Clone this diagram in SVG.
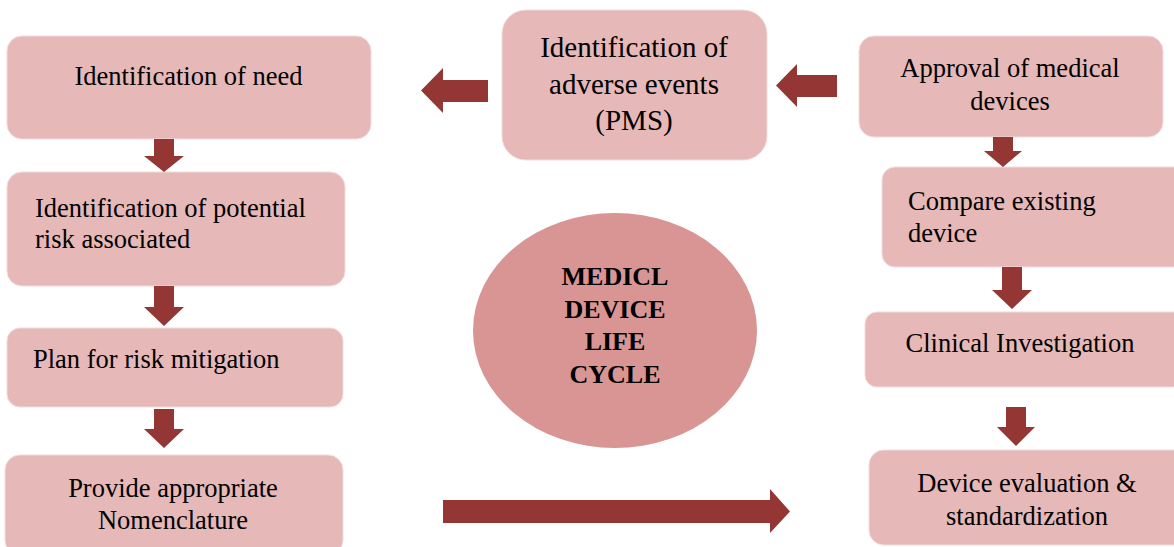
<svg xmlns="http://www.w3.org/2000/svg" width="1174" height="547" viewBox="0 0 1174 547">
<style>
.box{fill:#E6B8B7;stroke:#F2DCDB;stroke-width:1}
.arr{fill:#943634}
.t{font-family:"Liberation Serif","Times New Roman",serif;font-size:26.5px;fill:#000}
.c{text-anchor:middle}
.big{font-size:29px}
.b{font-weight:bold;font-size:26px}
</style>
<rect width="1174" height="547" fill="#fff"/>
<g id="n_need"><rect class="box" x="7" y="36" width="364" height="103" rx="15"/><text class="t c" x="188.5" y="85">Identification of need</text></g>
<g id="n_risk"><rect class="box" x="7" y="172" width="338" height="114" rx="15"/><text class="t" x="35" y="217">Identification of potential</text><text class="t" x="35" y="248">risk associated</text></g>
<g id="n_plan"><rect class="box" x="7" y="328" width="336" height="79" rx="13"/><text class="t" x="33" y="368">Plan for risk mitigation</text></g>
<g id="n_nomen"><rect class="box" x="5" y="455" width="338" height="100" rx="15"/><text class="t c" x="173" y="497">Provide appropriate</text><text class="t c" x="173" y="529">Nomenclature</text></g>
<g id="n_pms"><rect class="box" x="502" y="10" width="265" height="150" rx="24"/><text class="t c big" x="634" y="57">Identification of</text><text class="t c big" x="634" y="94">adverse events</text><text class="t c big" x="634" y="130">(PMS)</text></g>
<g id="n_approval"><rect class="box" x="859" y="36" width="304" height="101" rx="15"/><text class="t c" x="1010" y="77">Approval of medical</text><text class="t c" x="1010" y="110">devices</text></g>
<g id="n_compare"><rect class="box" x="882" y="167" width="310" height="100" rx="13"/><text class="t" x="908" y="210">Compare existing</text><text class="t" x="908" y="242">device</text></g>
<g id="n_clinical"><rect class="box" x="865" y="312" width="320" height="75" rx="12"/><text class="t c" x="1020" y="352">Clinical Investigation</text></g>
<g id="n_eval"><rect class="box" x="869" y="450" width="320" height="95" rx="15"/><text class="t c" x="1027" y="492">Device evaluation &amp;</text><text class="t c" x="1027" y="525">standardization</text></g>
<g id="n_center"><ellipse cx="615" cy="330.5" rx="142" ry="117.5" fill="#D99594"/><text class="t c b" x="615" y="285">MEDICL</text><text class="t c b" x="615" y="318">DEVICE</text><text class="t c b" x="615" y="350">LIFE</text><text class="t c b" x="615" y="383">CYCLE</text></g>
<g id="connectors">
<polygon class="arr" points="154,139 174,139 174,156 184,156 164,172 144,156 154,156"/>
<polygon class="arr" points="154,286 174,286 174,307 184,307 164,326 144,307 154,307"/>
<polygon class="arr" points="154,409 174,409 174,429 184,429 164,448 144,429 154,429"/>
<polygon class="arr" points="488,80 488,102 443,102 443,113 421,90.5 443,68 443,80"/>
<polygon class="arr" points="837,75 837,97 797,97 797,107 776,85.5 797,64 797,75"/>
<polygon class="arr" points="993,137 1013,137 1013,151 1022,151 1003,167 984,151 993,151"/>
<polygon class="arr" points="1002,267 1022,267 1022,290 1032,290 1012,309 992,290 1002,290"/>
<polygon class="arr" points="1006,407 1026,407 1026,427 1035,427 1016,446 997,427 1006,427"/>
<polygon class="arr" points="443,500 770,500 770,489 790,511.5 770,533 770,523 443,523"/>
</g>
</svg>
